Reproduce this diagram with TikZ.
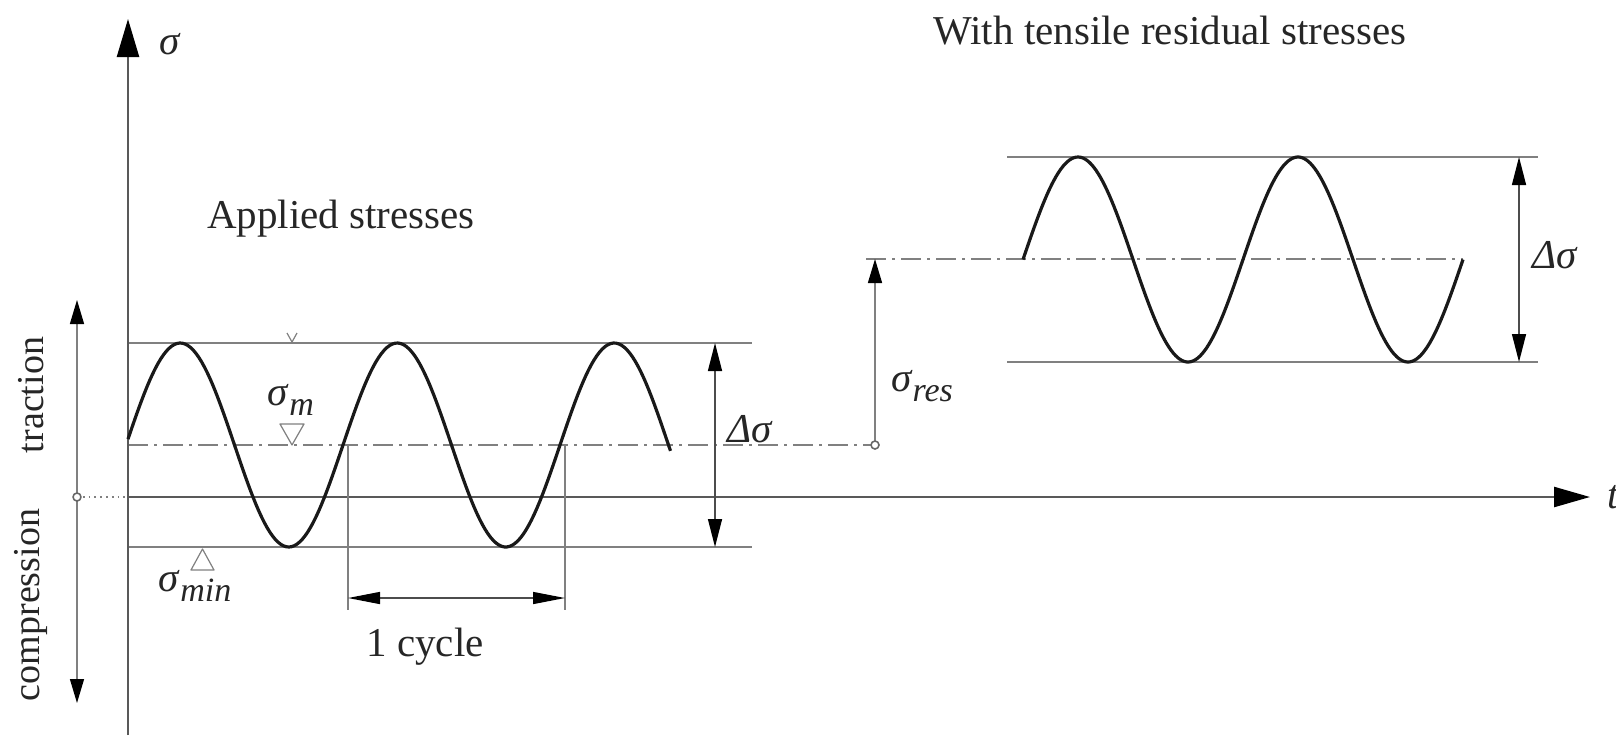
\documentclass[tikz,border=0pt]{standalone}
\usepackage{fontspec}
\setmainfont{Liberation Serif}
\usepackage{tikz}
\usetikzlibrary{arrows.meta}
\newcommand{\lowidx}[1]{\raisebox{-0.5ex}{\fontsize{17}{17}\selectfont\itshape #1}}

\begin{document}
\begin{tikzpicture}[x=0.5pt,y=-0.5pt,line join=round,
  txt/.style={font=\fontsize{20.5}{24}\selectfont,inner sep=0pt,text=black!85},
  sidetxt/.style={font=\fontsize{19}{22}\selectfont,inner sep=0pt,text=black!85,rotate=90},
  axis/.style={draw=black!65,line width=1.2pt},
  guide/.style={draw=black!50,line width=0.9pt},
  midline/.style={draw=black!50,line width=0.9pt,dash pattern=on 10pt off 3pt on 1.5pt off 3pt},
  wave/.style={draw=black!90,line width=1.6pt},
  dim/.style={draw=black!70,line width=0.7pt,{Triangle[length=14pt,width=7pt,color=black]}-{Triangle[length=14pt,width=7pt,color=black]}},
  ring/.style={draw=black!60,line width=0.8pt,fill=white}]
  \useasboundingbox (0,0) rectangle (1616,735);
  \coordinate (sA) at (128,735);
  \coordinate (sB) at (128,19);
  \coordinate (tA) at (128,497);
  \coordinate (tB) at (1590,497);
  \coordinate (zero) at (77,497);
  \coordinate (trU) at (77,300);
  \coordinate (trD) at (77,703);
  \coordinate (Lmax0) at (128,343);
  \coordinate (Lmax1) at (752,343);
  \coordinate (Lmin0) at (128,547);
  \coordinate (Lmin1) at (752,547);
  \coordinate (Lm0) at (128,445);
  \coordinate (res0) at (875,445);
  \coordinate (resT) at (875,259);
  \coordinate (dL1) at (715,343);
  \coordinate (dL2) at (715,547);
  \coordinate (c0) at (348,445);
  \coordinate (c0b) at (348,610);
  \coordinate (c1) at (565,445);
  \coordinate (c1b) at (565,610);
  \coordinate (ca) at (348,598);
  \coordinate (cb) at (565,598);
  \coordinate (Rm0) at (866,259);
  \coordinate (Rm1) at (1463,259);
  \coordinate (Rmax0) at (1007,157);
  \coordinate (Rmax1) at (1538,157);
  \coordinate (Rmin0) at (1007,362);
  \coordinate (Rmin1) at (1538,362);
  \coordinate (dR1) at (1519,157);
  \coordinate (dR2) at (1519,362);
  \draw[guide] (Lmax0) -- (Lmax1);
  \draw[guide] (Lmin0) -- (Lmin1);
  \draw[midline] (Lm0) -- (res0);
  \draw[guide] (Rmax0) -- (Rmax1);
  \draw[guide] (Rmin0) -- (Rmin1);
  \draw[midline] (Rm0) -- (Rm1);
  \draw[axis,-{Triangle[length=19pt,width=11pt,color=black]}] (sA) -- (sB);
  \draw[axis,-{Triangle[length=18pt,width=10pt,color=black]}] (tA) -- (tB);
  \draw[guide,dotted] (zero) -- (tA);
  \draw[guide,line width=0.7pt,-{Triangle[length=12pt,width=7pt,color=black]}] (zero) -- (trU);
  \draw[guide,line width=0.7pt,-{Triangle[length=12pt,width=7pt,color=black]}] (zero) -- (trD);
  \draw[wave] plot[domain=128:670.5,samples=200] (\x,{445-102*sin((\x-126)/217*360)});
  \draw[wave] plot[domain=1023:1463,samples=200] (\x,{259.5-102.5*sin((\x-1023)/220*360)});
  \draw[dim] (dL1) -- (dL2);
  \draw[dim] (dR1) -- (dR2);
  \draw[guide,line width=0.6pt] (c0) -- (c0b);
  \draw[guide,line width=0.6pt] (c1) -- (c1b);
  \draw[dim,{Triangle[length=16pt,width=6pt,color=black]}-{Triangle[length=16pt,width=6pt,color=black]}] (ca) -- (cb);
  \draw[guide,line width=0.7pt,-{Triangle[length=12pt,width=7pt,color=black]}] (res0) -- (resT);
  \draw[ring] (zero) circle[radius=2pt];
  \draw[ring] (res0) circle[radius=2pt];
  \draw[guide,line width=0.6pt,fill=white] (280,424) -- (304,424) -- (292,445) -- cycle;
  \draw[guide,line width=0.6pt,fill=white] (191,570) -- (214,570) -- (202.5,549) -- cycle;
  \draw[guide,line width=0.6pt] (287,333) -- (292,342) -- (297,333);
  \node[txt] (sig) at (170,44) {\textit{σ}};
  \node[txt] (tlab) at (1607,497) [anchor=west] {\textit{t}};
  \node[txt] (applied) at (341,219) {Applied stresses};
  \node[txt] (tensile) at (1170,31) {With tensile residual stresses};
  \node[sidetxt] (traction) at (31,395) {traction};
  \node[sidetxt] (compr) at (31,605) {compression};
  \node[txt] (sigm) at (291,400) {\textit{σ}\lowidx{m}};
  \node[txt] (sigmin) at (195,586) {\textit{σ}\lowidx{min}};
  \node[txt] (cycle) at (425,647) {1 cycle};
  \node[txt] (dsigL) at (750,429) {\textit{Δσ}};
  \node[txt] (sigres) at (922,386) {\textit{σ}\lowidx{res}};
  \node[txt] (dsigR) at (1555,255) {\textit{Δσ}};
\end{tikzpicture}
\end{document}
